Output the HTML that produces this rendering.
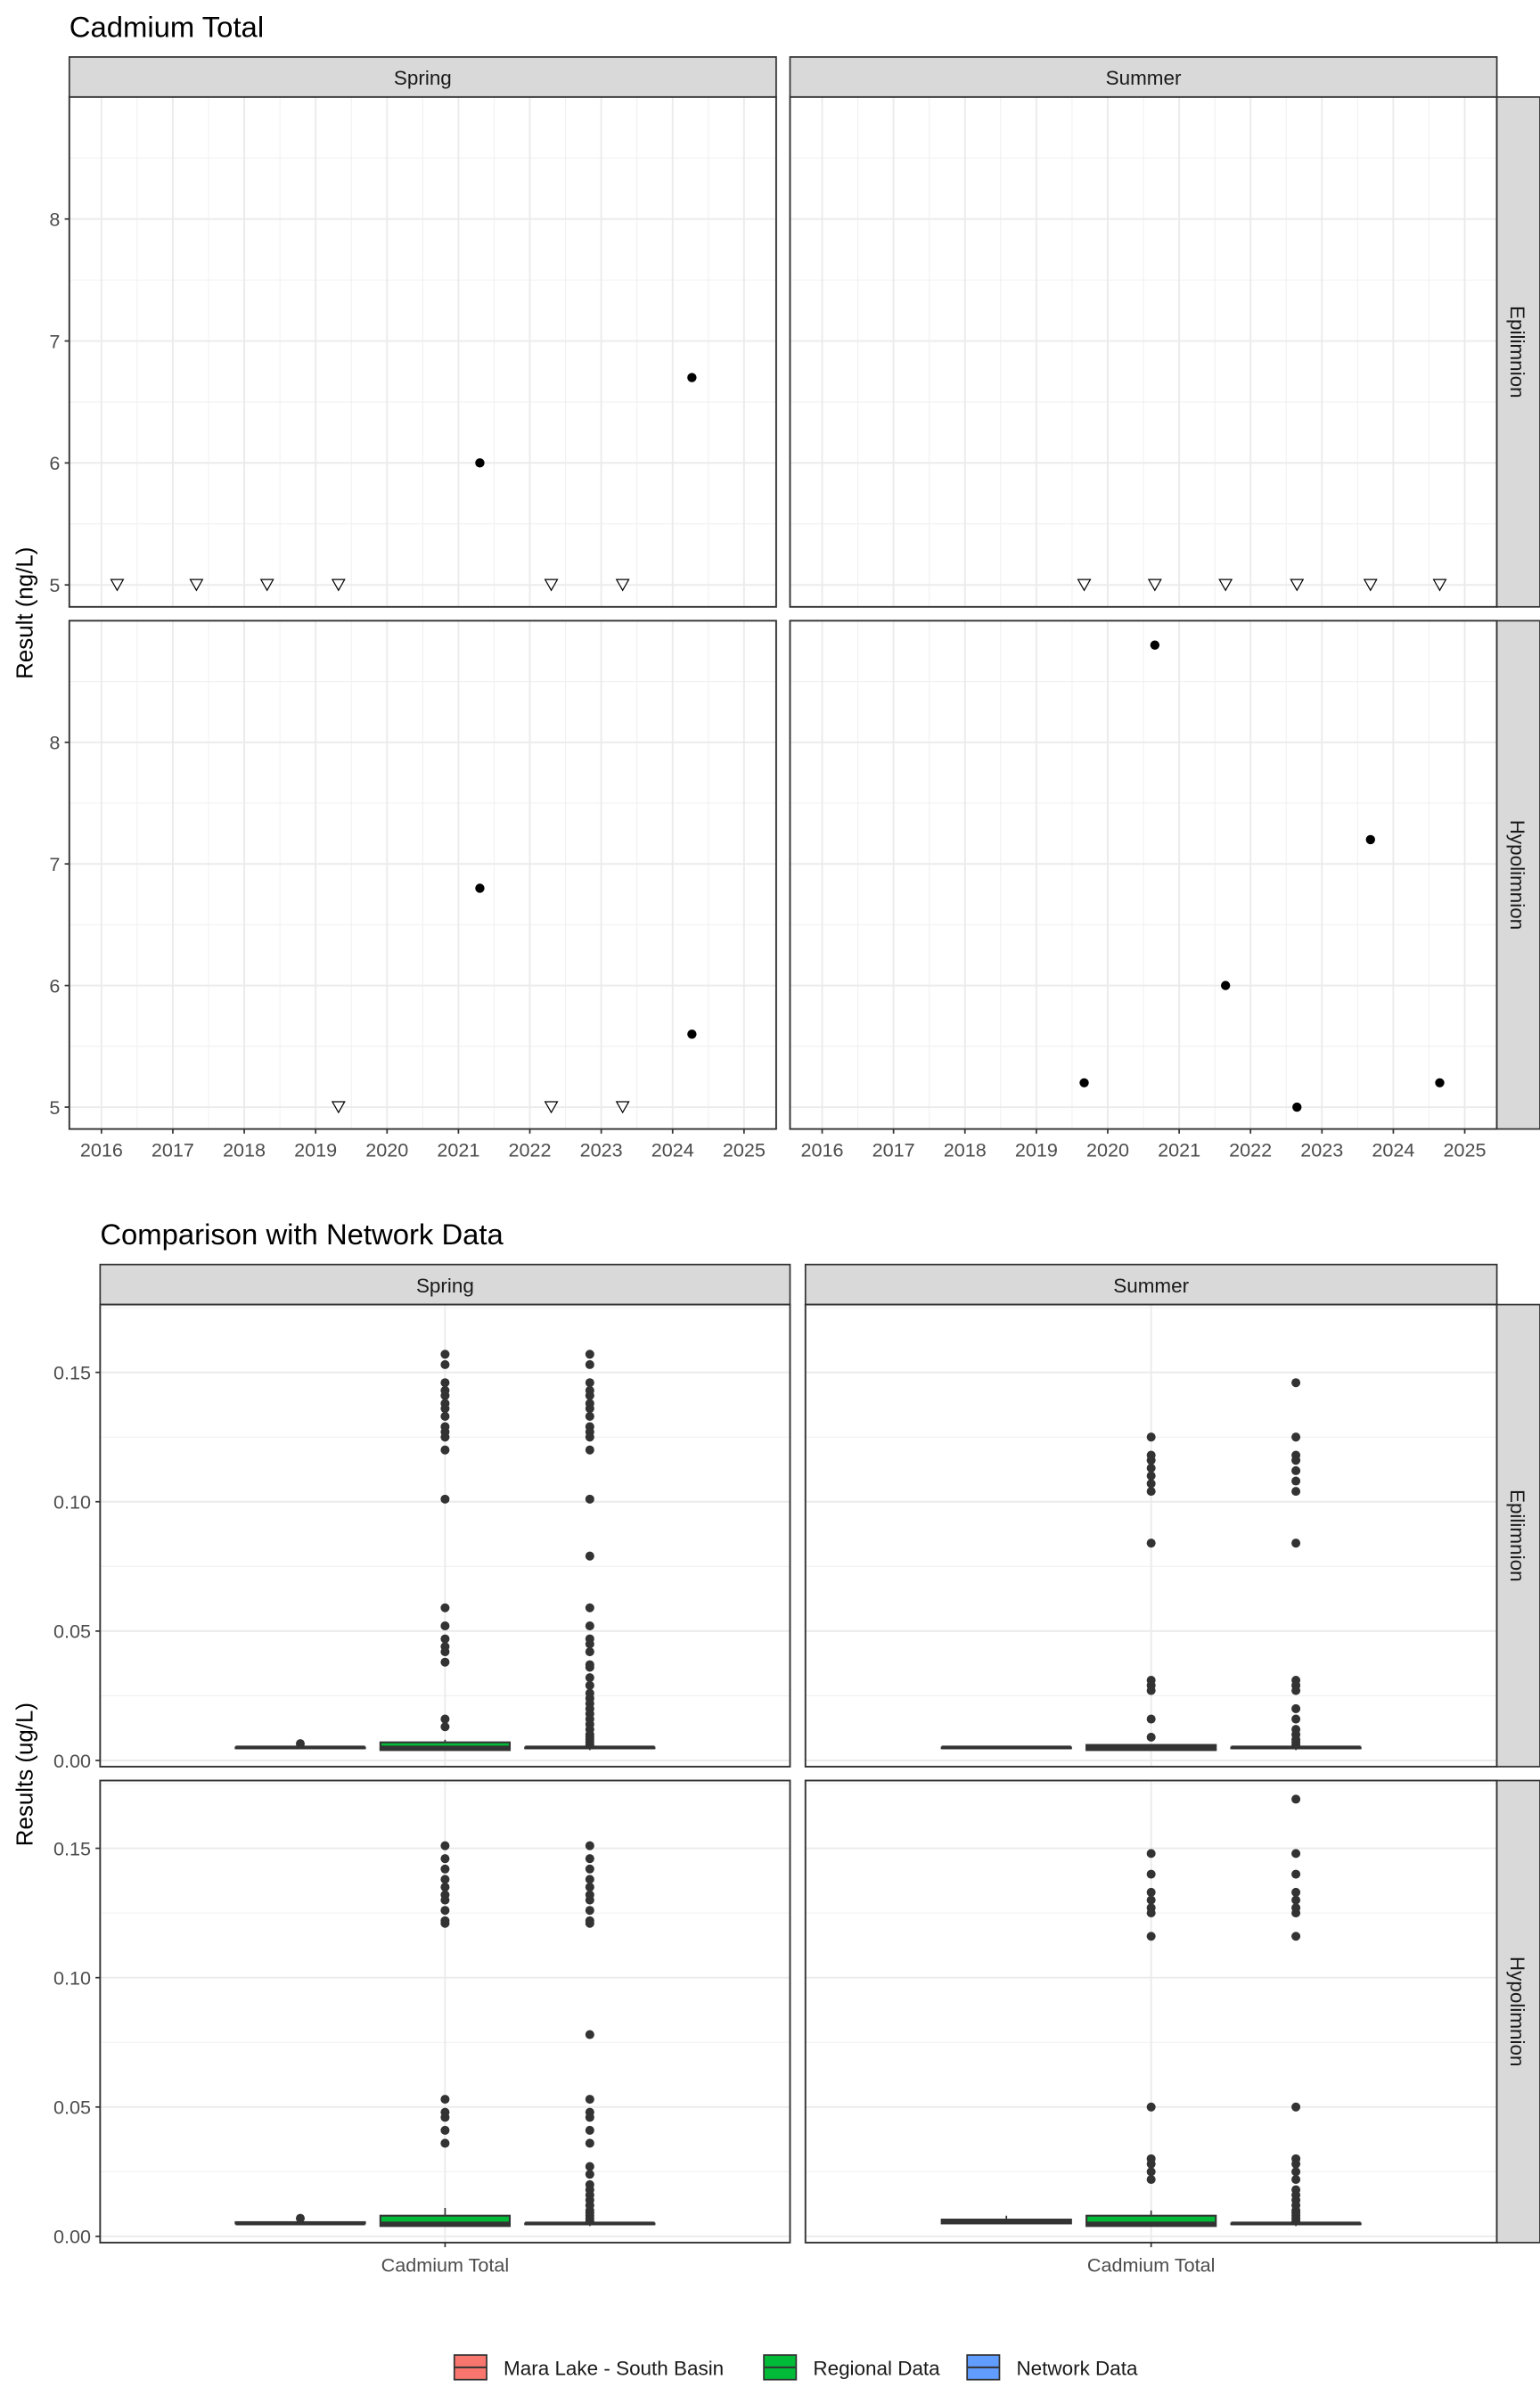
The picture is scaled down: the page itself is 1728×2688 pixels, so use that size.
<!DOCTYPE html>
<html><head><meta charset="utf-8"><style>
html,body{margin:0;padding:0;background:#fff}
svg{display:block;font-family:"Liberation Sans",sans-serif}
</style></head><body>
<svg id="chart" width="1728" height="2688" viewBox="0 0 1000 1555.6" xmlns="http://www.w3.org/2000/svg"></svg>
<script>
// ---------- Top chart data ----------
const yearTicks = [2016,2017,2018,2019,2020,2021,2022,2023,2024,2025];
const topYTicks = [5,6,7,8];
const springEpiND = [2016.22,2017.33,2018.32,2019.32,2022.3,2023.3];
const springEpiYears = [2021.3,2024.27];
const springEpiValues = [6.0,6.7];
const summerEpiND = [2019.67,2020.66,2021.65,2022.65,2023.68,2024.65];
const summerEpiYears = [];
const summerEpiValues = [];
const springHypoND = [2019.32,2022.3,2023.3];
const springHypoYears = [2021.3,2024.27];
const springHypoValues = [6.8,5.6];
const summerHypoND = [];
const summerHypoYears = [2019.67,2020.66,2021.65,2022.65,2023.68,2024.65];
const summerHypoValues = [5.2,8.8,6.0,5.0,7.2,5.2];
const ndValue = 5;

// ---------- Bottom chart data ----------
const groups = ["Mara Lake - South Basin","Regional Data","Network Data"];
const groupColors = ["#F8766D","#00BA38","#619CFF"];
const botYTicks = [0.00,0.05,0.10,0.15];
const botYLabels = ["0.00","0.05","0.10","0.15"];
// box stats: [lower whisker, q1, median, q3, upper whisker]
const springEpiBoxes = [[0.005,0.005,0.005,0.005,0.005],[0.004,0.004,0.005,0.007,0.008],[0.004,0.005,0.005,0.005,0.005]];
const springEpiOut = [[0.0065],
 [0.157,0.153,0.146,0.143,0.141,0.138,0.136,0.133,0.129,0.127,0.125,0.120,0.101,0.059,0.052,0.047,0.044,0.042,0.038,0.016,0.013],
 [0.157,0.153,0.146,0.143,0.141,0.138,0.136,0.133,0.129,0.127,0.125,0.120,0.101,0.079,0.059,0.052,0.047,0.045,0.042,0.037,0.036,0.032,0.029,0.026,0.024,0.022,0.020,0.018,0.016,0.014,0.012,0.010,0.009,0.008,0.007,0.006]];
const summerEpiBoxes = [[0.005,0.005,0.005,0.005,0.005],[0.004,0.004,0.005,0.006,0.006],[0.004,0.005,0.005,0.005,0.005]];
const summerEpiOut = [[],
 [0.125,0.118,0.116,0.113,0.110,0.107,0.104,0.084,0.031,0.029,0.027,0.016,0.009],
 [0.146,0.125,0.118,0.116,0.112,0.108,0.104,0.084,0.031,0.029,0.027,0.020,0.016,0.012,0.010,0.008,0.007,0.006]];
const springHypoBoxes = [[0.005,0.005,0.005,0.0055,0.0055],[0.004,0.004,0.005,0.008,0.011],[0.004,0.005,0.005,0.005,0.005]];
const springHypoOut = [[0.007],
 [0.151,0.146,0.142,0.138,0.135,0.132,0.130,0.126,0.122,0.121,0.053,0.048,0.046,0.041,0.036],
 [0.151,0.146,0.142,0.138,0.135,0.132,0.130,0.126,0.122,0.121,0.078,0.053,0.048,0.046,0.041,0.036,0.027,0.024,0.020,0.018,0.016,0.014,0.012,0.010,0.009,0.008,0.007,0.006]];
const summerHypoBoxes = [[0.005,0.005,0.0055,0.0065,0.008],[0.004,0.004,0.005,0.008,0.010],[0.004,0.005,0.005,0.005,0.005]];
const summerHypoOut = [[],
 [0.148,0.140,0.133,0.130,0.127,0.125,0.116,0.050,0.030,0.028,0.025,0.022],
 [0.169,0.148,0.140,0.133,0.130,0.127,0.125,0.116,0.050,0.030,0.028,0.025,0.022,0.018,0.016,0.014,0.012,0.010,0.009,0.008,0.007,0.006]];

const NS="http://www.w3.org/2000/svg";
const svg=document.getElementById('chart');
function el(tag,attrs,parent,name,inter){
  const e=document.createElementNS(NS,tag);
  for(const k in attrs)e.setAttribute(k,attrs[k]);
  
  
  (parent||svg).appendChild(e);return e;
}
function txt(s,attrs,name,parent){const t=el('text',attrs,parent,name,false);t.textContent=s;return t;}

// ---------- Top chart ----------
txt("Cadmium Total",{x:45,y:24,'font-size':19,fill:'#000'},'top-chart-title');
const topCols=[{x0:45,x1:504,label:'Spring'},{x0:513,x1:972,label:'Summer'}];
const topRows=[{y0:63,y1:394,label:'Epilimnion'},{y0:403,y1:733,label:'Hypolimnion'}];
const topData=[[ [springEpiND,springEpiYears,springEpiValues],[summerEpiND,summerEpiYears,summerEpiValues] ],
               [ [springHypoND,springHypoYears,springHypoValues],[summerHypoND,summerHypoYears,summerHypoValues] ]];
const yMin=4.82,yMax=9.0,xMin=2015.55,xMax=2025.45;
topCols.forEach((c,ci)=>{
  const sg=el('g',{},svg,'strip-'+c.label.toLowerCase(),false);
  el('rect',{x:c.x0,y:37,width:c.x1-c.x0,height:26,fill:'#d9d9d9',stroke:'#333','stroke-width':1},sg,'strip-bg',false);
  txt(c.label,{x:(c.x0+c.x1)/2,y:55,'font-size':13,'text-anchor':'middle',fill:'#1a1a1a'},'strip-label',sg);
  topRows.forEach((r,ri)=>{
    const X=v=>c.x0+(v-xMin)/(xMax-xMin)*(c.x1-c.x0);
    const Y=v=>r.y1-(v-yMin)/(yMax-yMin)*(r.y1-r.y0);
    const g=el('g',{},svg,'panel-'+c.label.toLowerCase()+'-'+r.label.toLowerCase(),false);
    el('rect',{x:c.x0,y:r.y0,width:c.x1-c.x0,height:r.y1-r.y0,fill:'#fff'},g,'panel-bg',false);
    yearTicks.forEach(t=>{ if(t+0.5<xMax) el('line',{x1:X(t+0.5),x2:X(t+0.5),y1:r.y0,y2:r.y1,stroke:'#f0f0f0','stroke-width':0.6},g,'minor-grid-x',false);});
    [4.5,5.5,6.5,7.5,8.5].forEach(t=>{ if(t>yMin&&t<yMax) el('line',{x1:c.x0,x2:c.x1,y1:Y(t),y2:Y(t),stroke:'#f0f0f0','stroke-width':0.6},g,'minor-grid-y',false);});
    yearTicks.forEach(t=>el('line',{x1:X(t),x2:X(t),y1:r.y0,y2:r.y1,stroke:'#ebebeb','stroke-width':1.1},g,'grid-x',false));
    topYTicks.forEach(t=>el('line',{x1:c.x0,x2:c.x1,y1:Y(t),y2:Y(t),stroke:'#ebebeb','stroke-width':1.1},g,'grid-y',false));
    const [nd,yrs,vals]=topData[ri][ci];
    nd.forEach(v=>{const x=X(v),y=Y(ndValue);
      el('path',{d:`M${x-4},${y-3.5} L${x+4},${y-3.5} L${x},${y+3.5} Z`,fill:'#fff',stroke:'#000','stroke-width':0.7},g,'non-detect-marker',false);});
    yrs.forEach((v,i)=>el('circle',{cx:X(v),cy:Y(vals[i]),r:3,fill:'#000'},g,'data-point',false));
    el('rect',{x:c.x0,y:r.y0,width:c.x1-c.x0,height:r.y1-r.y0,fill:'none',stroke:'#333','stroke-width':1.1},g,'panel-border',false);
    if(ci===0){ topYTicks.forEach(t=>{
      el('line',{x1:c.x0-3,x2:c.x0,y1:Y(t),y2:Y(t),stroke:'#333'},g,'y-tick',false);
      txt(String(t),{x:c.x0-6,y:Y(t)+4.5,'font-size':12.5,'text-anchor':'end',fill:'#4d4d4d'},'y-tick-label',g);});}
    if(ri===1){ yearTicks.forEach(t=>{
      el('line',{x1:X(t),x2:X(t),y1:r.y1,y2:r.y1+3,stroke:'#333'},g,'x-tick',false);
      txt(String(t),{x:X(t),y:r.y1+18,'font-size':12.5,'text-anchor':'middle',fill:'#4d4d4d'},'x-tick-label',g);});}
  });
});
topRows.forEach(r=>{
  const sg=el('g',{},svg,'strip-'+r.label.toLowerCase(),false);
  el('rect',{x:972,y:r.y0,width:28,height:r.y1-r.y0,fill:'#d9d9d9',stroke:'#333','stroke-width':1},sg,'strip-bg',false);
  txt(r.label,{x:0,y:0,'font-size':13,'text-anchor':'middle',fill:'#1a1a1a',transform:`translate(981,${(r.y0+r.y1)/2}) rotate(90)`},'strip-label',sg);
});
txt("Result (ng/L)",{x:0,y:0,'font-size':15,'text-anchor':'middle',fill:'#000',transform:'translate(21,398) rotate(-90)'},'top-y-axis-title');

// ---------- Bottom chart ----------
txt("Comparison with Network Data",{x:65,y:808,'font-size':19,fill:'#000'},'bottom-chart-title');
const bCols=[{x0:65,x1:513,label:'Spring'},{x0:523,x1:972,label:'Summer'}];
const bRows=[{y0:847,y1:1147,label:'Epilimnion'},{y0:1156,y1:1456,label:'Hypolimnion'}];
const bBoxes=[[springEpiBoxes,summerEpiBoxes],[springHypoBoxes,summerHypoBoxes]];
const bOut=[[springEpiOut,summerEpiOut],[springHypoOut,summerHypoOut]];
const bMin=-0.0024,bMax=0.1762;
bCols.forEach((c,ci)=>{
  const sg=el('g',{},svg,'strip-'+c.label.toLowerCase()+'-bottom',false);
  el('rect',{x:c.x0,y:821,width:c.x1-c.x0,height:26,fill:'#d9d9d9',stroke:'#333','stroke-width':1},sg,'strip-bg',false);
  txt(c.label,{x:(c.x0+c.x1)/2,y:839,'font-size':13,'text-anchor':'middle',fill:'#1a1a1a'},'strip-label',sg);
  const cx=(c.x0+c.x1)/2, step=94, bw=84;
  bRows.forEach((r,ri)=>{
    const Y=v=>r.y1-(v-bMin)/(bMax-bMin)*(r.y1-r.y0);
    const g=el('g',{},svg,'box-panel-'+c.label.toLowerCase()+'-'+r.label.toLowerCase(),false);
    el('rect',{x:c.x0,y:r.y0,width:c.x1-c.x0,height:r.y1-r.y0,fill:'#fff'},g,'panel-bg',false);
    [0.025,0.075,0.125,0.175].forEach(t=>el('line',{x1:c.x0,x2:c.x1,y1:Y(t),y2:Y(t),stroke:'#f0f0f0','stroke-width':0.6},g,'minor-grid-y',false));
    botYTicks.forEach(t=>el('line',{x1:c.x0,x2:c.x1,y1:Y(t),y2:Y(t),stroke:'#ebebeb','stroke-width':1.1},g,'grid-y',false));
    el('line',{x1:cx,x2:cx,y1:r.y0,y2:r.y1,stroke:'#ebebeb','stroke-width':1.1},g,'grid-x',false);
    groups.forEach((gr,gi)=>{
      const bx=cx+(gi-1)*step, s=bBoxes[ri][ci][gi];
      const bg=el('g',{},g,'box-'+gr.toLowerCase().replace(/[^a-z]+/g,'-'),false);
      el('line',{x1:bx,x2:bx,y1:Y(s[0]),y2:Y(s[4]),stroke:'#333','stroke-width':1},bg,'whisker',false);
      const top=Y(s[3]),bot=Y(s[1]);
      el('rect',{x:bx-bw/2,y:top,width:bw,height:Math.max(bot-top,0.5),fill:groupColors[gi],stroke:'#333','stroke-width':1.2},bg,'box-body',false);
      el('line',{x1:bx-bw/2,x2:bx+bw/2,y1:Y(s[2]),y2:Y(s[2]),stroke:'#333','stroke-width':2.4},bg,'box-median',false);
      bOut[ri][ci][gi].forEach(v=>el('circle',{cx:bx,cy:Y(v),r:2.9,fill:'#333'},bg,'outlier-point',false));
    });
    el('rect',{x:c.x0,y:r.y0,width:c.x1-c.x0,height:r.y1-r.y0,fill:'none',stroke:'#333','stroke-width':1.1},g,'panel-border',false);
    if(ci===0){ botYTicks.forEach((t,i)=>{
      el('line',{x1:c.x0-3,x2:c.x0,y1:Y(t),y2:Y(t),stroke:'#333'},g,'y-tick',false);
      txt(botYLabels[i],{x:c.x0-6,y:Y(t)+4.5,'font-size':12.5,'text-anchor':'end',fill:'#4d4d4d'},'y-tick-label',g);});}
    if(ri===1){
      el('line',{x1:cx,x2:cx,y1:r.y1,y2:r.y1+3,stroke:'#333'},g,'x-tick',false);
      txt("Cadmium Total",{x:cx,y:r.y1+19,'font-size':12.5,'text-anchor':'middle',fill:'#4d4d4d'},'x-tick-label',g);}
  });
});
bRows.forEach(r=>{
  const sg=el('g',{},svg,'strip-'+r.label.toLowerCase()+'-bottom',false);
  el('rect',{x:972,y:r.y0,width:28,height:r.y1-r.y0,fill:'#d9d9d9',stroke:'#333','stroke-width':1},sg,'strip-bg',false);
  txt(r.label,{x:0,y:0,'font-size':13,'text-anchor':'middle',fill:'#1a1a1a',transform:`translate(981,${(r.y0+r.y1)/2}) rotate(90)`},'strip-label',sg);
});
txt("Results (ug/L)",{x:0,y:0,'font-size':15,'text-anchor':'middle',fill:'#000',transform:'translate(21,1152) rotate(-90)'},'bottom-y-axis-title');

// legend
const lg=el('g',{},svg,'legend',false);
const legX=[295,496,628];
groups.forEach((gr,gi)=>{
  const e=el('g',{},lg,'legend-entry',true);
  el('rect',{x:legX[gi],y:1529,width:21,height:16,fill:groupColors[gi],stroke:'#333','stroke-width':1},e,'legend-key',false);
  el('line',{x1:legX[gi],x2:legX[gi]+21,y1:1537,y2:1537,stroke:'#333','stroke-width':1.2},e,'legend-key-median',false);
  txt(gr,{x:legX[gi]+32,y:1542,'font-size':13,fill:'#1a1a1a'},'legend-label',e);
});
</script>
</body></html>
